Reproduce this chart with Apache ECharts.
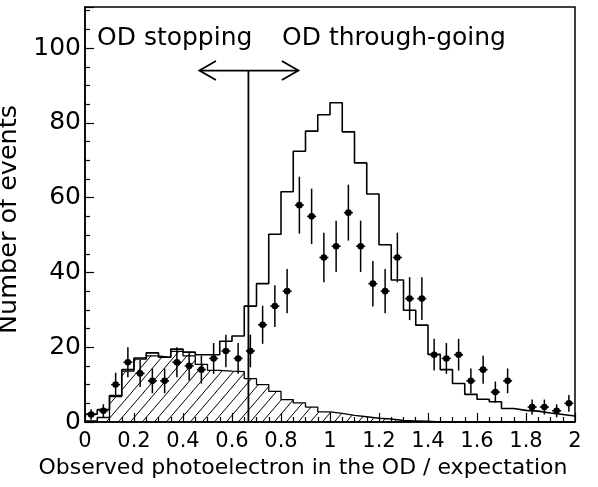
<!DOCTYPE html>
<html><head><meta charset="utf-8">
<script src="https://cdn.jsdelivr.net/npm/echarts@6/dist/echarts.min.js"></script>
<style>html,body{margin:0;padding:0;background:#fff}#c{width:598px;height:487px}</style>
</head><body><div id="c"></div>
<script>
// ---- data ----
const binStart = 0;
const binWidth = 0.05;
// observed events per bin (null = empty bin, not drawn)
const dataCounts = [2,3,10,16,13,11,11,16,15,14,17,19,17,19,26,31,35,58,55,44,47,56,47,37,35,44,33,33,18,17,18,11,14,8,11,null,4,4,3,5];
// MC total (open histogram)
const mcTotal = [2.1,3.3,7.1,14.0,17.1,18.5,17.3,19.5,18.7,18.0,18.0,21.6,23.0,31.0,37.0,50.2,61.6,72.4,77.8,82.2,85.4,77.6,69.3,61.0,47.4,38.0,29.9,25.9,18.1,14.0,10.3,7.4,6.1,5.4,3.6,3.1,2.9,2.4,2.0,1.6];
// MC OD-stopping component (hatched histogram)
const mcStopping = [0.3,1.2,6.8,13.6,16.8,17.7,17.3,18.9,17.7,15.4,13.8,13.6,13.5,11.6,10.0,8.2,6.0,5.1,4.0,2.7,2.3,1.8,1.4,1.0,0.8,0.4,0.3,0.2,0,0,0,0,0,0,0,0,0,0,0,0];
// cut annotation
const cutValue = 0.667;
const arrowLevel = 94;
const arrowFrom = 0.467;
const arrowTo = 0.871;
const labelStopping = 'OD stopping';
const labelThrough = 'OD through-going';
const xTitle = 'Observed photoelectron in the OD / expectation';
const yTitle = 'Number of events';

// ---- build series data ----
function stepData(vals){
  const out = vals.map((v,i)=>[binStart + i*binWidth, v]);
  out.push([binStart + vals.length*binWidth, vals[vals.length-1]]);
  return out;
}
const points = [];
dataCounts.forEach((n,i)=>{ if(n!==null && n>0) points.push([binStart+(i+0.5)*binWidth, n, Math.sqrt(n)]); });

// hatch pattern
const pc = document.createElement('canvas');
pc.width = 12; pc.height = 14;
const g = pc.getContext('2d');
g.strokeStyle = '#000'; g.lineWidth = 1;
g.beginPath();
g.moveTo(0,14); g.lineTo(12,0);
g.moveTo(-12,14); g.lineTo(0,0);
g.moveTo(12,14); g.lineTo(24,0);
g.stroke();

const FONT = '"DejaVu Sans", "Liberation Sans", sans-serif';
const chart = echarts.init(document.getElementById('c'), null, {renderer:'canvas'});
chart.setOption({
  animation: false,
  backgroundColor: '#fff',
  grid: { left: 85, right: 23, top: 7, bottom: 65, show: true, borderColor: '#000', borderWidth: 1.5, containLabel: false, outerBoundsMode: 'none' },
  xAxis: {
    type: 'value', min: 0, max: 2, interval: 0.2,
    name: xTitle, nameLocation: 'middle', nameGap: 33,
    nameTextStyle: { fontFamily: FONT, fontSize: 22, color: '#000', padding: [0, 54, 0, 0] },
    axisLine: { show: true, lineStyle: { color: '#000', width: 1.5 } },
    axisTick: { show: true, inside: true, length: 9, lineStyle: { color: '#000', width: 1.2 } },
    minorTick: { show: true, splitNumber: 4, length: 5, lineStyle: { color: '#000', width: 1.2 } },
    axisLabel: { margin: 9, fontFamily: FONT, fontSize: 21, color: '#000' },
    splitLine: { show: false }
  },
  yAxis: {
    type: 'value', min: 0, max: 111, interval: 20,
    name: yTitle, nameLocation: 'middle', nameGap: 52, nameRotate: 90,
    nameTextStyle: { fontFamily: FONT, fontSize: 25.5, color: '#000', padding: [0, 10, 0, 0] },
    axisLine: { show: true, lineStyle: { color: '#000', width: 1.5 } },
    axisTick: { show: true, inside: true, length: 9, lineStyle: { color: '#000', width: 1.2 } },
    minorTick: { show: true, splitNumber: 4, length: 5, lineStyle: { color: '#000', width: 1.2 } },
    axisLabel: { margin: 4, fontFamily: FONT, fontSize: 25, color: '#000', showMaxLabel: false },
    splitLine: { show: false }
  },
  series: [
    { type: 'line', data: stepData(mcStopping), step: 'end', symbol: 'none', silent: true,
      lineStyle: { color: '#000', width: 1.3 },
      areaStyle: { color: { image: pc, repeat: 'repeat' }, opacity: 1 }, z: 1 },
    { type: 'line', data: stepData(mcTotal), step: 'end', symbol: 'none', silent: true,
      lineStyle: { color: '#000', width: 1.6 }, z: 2 },
    { type: 'custom', data: points, z: 3, silent: true,
      renderItem: function(params, api){
        const x = api.value(0), y = api.value(1), e = api.value(2);
        const c = api.coord([x, y]);
        const t = api.coord([x, y + e]);
        const b = api.coord([x, Math.max(0, y - e)]);
        return { type: 'group', children: [
          { type: 'line', shape: { x1: c[0], y1: t[1], x2: c[0], y2: b[1] }, style: { stroke: '#000', lineWidth: 1.5 } },
          { type: 'line', shape: { x1: c[0]-4.5, y1: c[1], x2: c[0]+4.5, y2: c[1] }, style: { stroke: '#000', lineWidth: 1.5 } },
          { type: 'circle', shape: { cx: c[0], cy: c[1], r: 3.3 }, style: { fill: '#000' } }
        ]};
      }
    },
    { type: 'custom', data: [[cutValue, arrowLevel, arrowFrom, arrowTo]], z: 4, silent: true,
      renderItem: function(params, api){
        const cx = api.value(0), lv = api.value(1), a0 = api.value(2), a1 = api.value(3);
        const base = api.coord([cx, 0]);
        const top = api.coord([cx, lv]);
        const L = api.coord([a0, lv]);
        const R = api.coord([a1, lv]);
        const st = { stroke: '#000', lineWidth: 1.8 };
        return { type: 'group', children: [
          { type: 'line', shape: { x1: base[0], y1: base[1], x2: top[0], y2: top[1] }, style: st },
          { type: 'line', shape: { x1: L[0], y1: L[1], x2: R[0], y2: R[1] }, style: st },
          { type: 'polyline', shape: { points: [[L[0]+16.5, L[1]-9.5],[L[0], L[1]],[L[0]+16.5, L[1]+9.5]] }, style: { stroke: '#000', lineWidth: 1.8, fill: null } },
          { type: 'polyline', shape: { points: [[R[0]-16.5, R[1]-9.5],[R[0], R[1]],[R[0]-16.5, R[1]+9.5]] }, style: { stroke: '#000', lineWidth: 1.8, fill: null } }
        ]};
      }
    }
  ],
  graphic: [
    { type: 'text', left: 97, top: 26, z: 10, style: { text: labelStopping, font: '25px ' + FONT, fill: '#000' } },
    { type: 'text', left: 282, top: 26, z: 10, style: { text: labelThrough, font: '25px ' + FONT, fill: '#000' } }
  ]
});
</script>
</body></html>
